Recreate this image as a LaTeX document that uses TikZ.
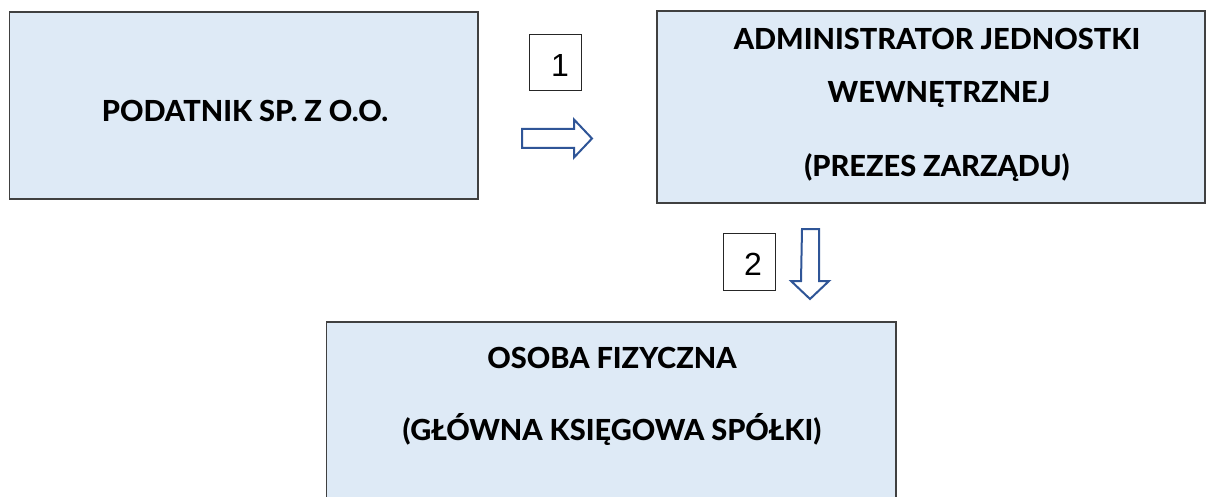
\documentclass[tikz,border=0pt]{standalone}
\usepackage{fontspec}
\newfontfamily\lato{Lato}[BoldFont={Lato Heavy}]
\newfontfamily\arialish{Liberation Sans}
\definecolor{boxfill}{HTML}{DEEAF6}
\definecolor{boxline}{HTML}{404040}
\definecolor{arrowline}{HTML}{2F5597}
\begin{document}
\begin{tikzpicture}[x=1pt,y=-1pt,
  bigbox/.style={draw=boxline, fill=boxfill, line width=1.4pt, rectangle, inner sep=0pt, outer sep=0pt},
  txt/.style={font=\lato\bfseries\fontsize{29}{33}\selectfont, anchor=base, inner sep=0pt},
  numbox/.style={draw=black!85, line width=1pt, fill=white, rectangle, inner sep=0pt, minimum width=52pt, minimum height=56pt},
  numtxt/.style={font=\arialish\fontsize{32}{36}\selectfont, anchor=base, inner sep=0pt},
  blockarrow/.style={draw=arrowline, fill=white, line width=2pt, line join=miter}]
\useasboundingbox (0,0) rectangle (1206,497);
% boxes
\node[bigbox, minimum width=468.5pt, minimum height=187pt] (A) at (243.75,105.5) {};
\node[bigbox, minimum width=548pt, minimum height=192pt] (B) at (931,107) {};
\node[bigbox, minimum width=569.5pt, minimum height=190pt] (C) at (611.25,417) {};
% texts
\node[txt] (ta) at (245,121.5) {PODATNIK SP. Z O.O.};
\node[txt] (tb1) at (937,50) {ADMINISTRATOR JEDNOSTKI};
\node[txt] (tb2) at (939,103) {WEWNĘTRZNEJ};
\node[txt] (tb3) at (937,177) {(PREZES ZARZĄDU)};
\node[txt] (tc1) at (612,368) {OSOBA FIZYCZNA};
\node[txt] (tc2) at (612,440) {(GŁÓWNA KSIĘGOWA SPÓŁKI)};
% number boxes
\node[numbox, minimum height=56pt] (n1) at (555,63) {};
\node[numtxt] (n1t) at (560,77) {1};
\node[numbox, minimum height=57pt] (n2) at (749,261.5) {};
\node[numtxt] (n2t) at (753,275) {2};
% block arrows
\coordinate (r0) at (522,138.5);
\draw[blockarrow] (r0) ++(0,-9.5) -- ++(52,0) -- ++(0,-9.5) -- ++(18,19) -- ++(-18,19) -- ++(0,-9.5) -- ++(-52,0) -- cycle;
\coordinate (d0) at (810.5,229);
\draw[blockarrow] (d0) ++(-8.5,0) -- ++(17,0) -- ++(0,52) -- ++(10,0) -- ++(-19,18) -- ++(-19,-18) -- ++(10,0) -- cycle;
\end{tikzpicture}
\end{document}
